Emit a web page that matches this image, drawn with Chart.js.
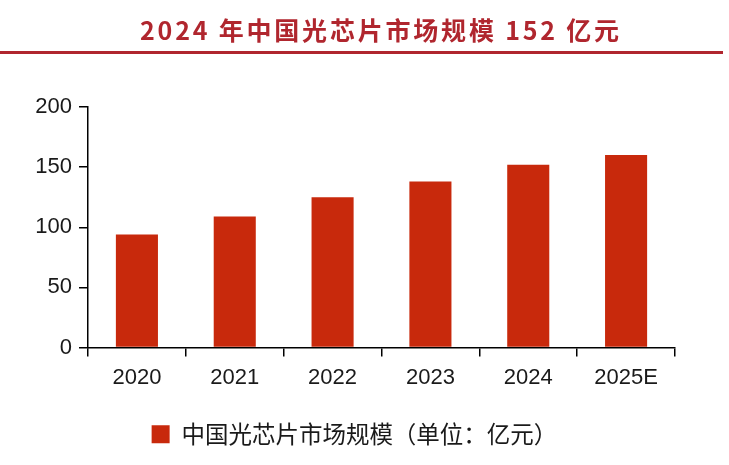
<!DOCTYPE html>
<html>
<head>
<meta charset="utf-8">
<script src="https://cdn.jsdelivr.net/npm/chart.js@4.4.1/dist/chart.umd.min.js"></script>
<style>
  html, body { margin: 0; padding: 0; background: #fff; }
  #wrap { position: relative; width: 729px; height: 465px; }
  #title {
    position: absolute; left: 0; top: 13px; width: 762px; text-align: center;
    font-family: "Noto Sans CJK SC", sans-serif; font-weight: bold;
    font-size: 25px; letter-spacing: 2.8px; color: #b0262e; line-height: 32px;
  }
  #rule { position: absolute; left: 0; top: 51px; width: 723px; height: 3px; background: #b0262e; }
  #chart { position: absolute; left: 0; top: 0; }
</style>
</head>
<body>
<div id="wrap">
  <canvas id="chart" width="729" height="465"></canvas>
  <div id="title">2024 年中国光芯片市场规模 152 亿元</div>
  <div id="rule"></div>
</div>
<script>
// values
const years = ["2020", "2021", "2022", "2023", "2024", "2025E"];
const marketSize = [94, 109, 125, 138, 152, 160];
const seriesName = "中国光芯片市场规模（单位：亿元）";
const yTicks = [0, 50, 100, 150, 200];

const barRed = "#c8290c";
const inkColor = "#1a1a1a";

Chart.defaults.font.family = "'Liberation Sans', Arial, sans-serif";
Chart.defaults.color = inkColor;

new Chart(document.getElementById("chart"), {
  type: "bar",
  data: {
    labels: years,
    datasets: [{
      label: seriesName,
      data: marketSize,
      backgroundColor: barRed,
      borderWidth: 0,
      categoryPercentage: 1,
      barPercentage: 0.43,
    }],
  },
  options: {
    responsive: false,
    animation: false,
    layout: { padding: { top: 107, right: 54, left: 34, bottom: 9 } },
    plugins: {
      tooltip: { enabled: false },
      legend: {
        position: "bottom",
        labels: {
          boxWidth: 18, boxHeight: 18, padding: 14,
          color: inkColor,
          font: { size: 23.5, family: "'Noto Sans CJK SC', sans-serif" },
        },
      },
    },
    scales: {
      x: {
        grid: { drawOnChartArea: false, drawTicks: true, tickLength: 9, color: "#000", lineWidth: 1.5, offset: true },
        border: { color: "#000", width: 1.5 },
        ticks: { font: { size: 22 }, padding: 8, color: inkColor },
        afterFit: (s) => { s.height = 61; },
      },
      y: {
        min: 0, max: 200,
        afterBuildTicks: (s) => { s.ticks = yTicks.map(v => ({ value: v })); },
        grid: { drawOnChartArea: false, drawTicks: true, tickLength: 9, color: "#000", lineWidth: 1.5 },
        border: { color: "#000", width: 1.5 },
        ticks: { font: { size: 22 }, padding: 7, color: inkColor },
        afterFit: (s) => { s.width = 54; },
      },
    },
  },
});
</script>
</body>
</html>
